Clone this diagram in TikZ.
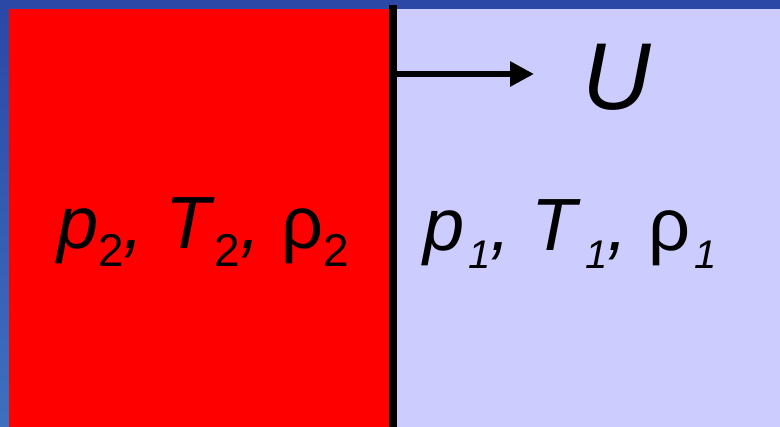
\documentclass[tikz,border=0pt]{standalone}
\usepackage{fontspec}
\setmainfont{Liberation Sans}
\usetikzlibrary{arrows.meta}
\definecolor{framedark}{HTML}{2B48A6}
\definecolor{framelight}{HTML}{3E70BF}
\definecolor{hotgas}{HTML}{FF0000}
\definecolor{coldgas}{HTML}{CCCCFF}
\newcommand{\lowsub}[2][46]{\raisebox{-0.23em}{\fontsize{#1}{#1}\selectfont #2}}
\tikzset{
  wallline/.style  = {draw=black, line width=8pt},
  pushflow/.style  = {-{Triangle[length=24pt, width=24pt]}, draw=black, line width=6pt},
  statetxt/.style  = {font=\fontsize{74}{74}\selectfont, inner sep=0pt, anchor=base west},
  speedtxt/.style  = {font=\fontsize{95}{95}\selectfont\itshape, inner sep=0pt, anchor=base},
}

\begin{document}
\begin{tikzpicture}[x=1pt, y=1pt]
    \useasboundingbox (0,0) rectangle (780,427);
    % ---------------- frame and gases
    \fill[framedark] (0,418) rectangle (780,427);
    \shade[top color=framedark, bottom color=framelight] (0,0) rectangle (9,418);
    \fill[hotgas] (9,0) rectangle (389,418);
    \fill[coldgas] (397,0) rectangle (780,418);

    % ---------------- piston and its motion
    \coordinate (wallbot) at (393,0);
    \coordinate (walltop) at (393,422);
    \draw[wallline] (wallbot) -- (walltop);
    \coordinate (pushfrom) at (397,353);
    \coordinate (pushto) at (534,353);
    \draw[pushflow] (pushfrom) -- (pushto);
    \node[speedtxt] (speed) at (617,317) {U};

    % ---------------- states
    \node[statetxt] (state2) at (57,178)
      {\textit{p}\lowsub{2}\textit{,} \textit{T}\lowsub{2}\textit{,} ρ\lowsub{2}};
    \node[statetxt] (state1) at (423,176)
      {\textit{p}\hspace{4pt}\lowsub[40]{\itshape 1}\textit{,} \textit{T}\hspace{4pt}\lowsub[40]{\itshape 1}\textit{,} ρ\hspace{4pt}\lowsub[40]{\itshape 1}};
  \end{tikzpicture}
\end{document}
